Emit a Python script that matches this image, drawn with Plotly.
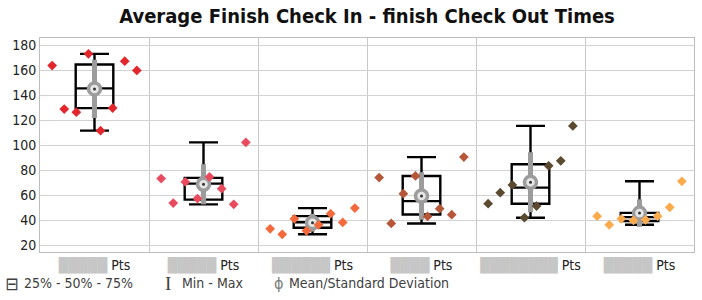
import numpy as np
import plotly.graph_objects as go

# ---------------- data ----------------
label_suffix = "Pts"
label_mask_len = [5, 5, 6, 4, 8, 5]   # redacted name placeholders

cat1 = [163.9, 129.0, 126.5, 173.3, 111.7, 129.8, 167.4, 160.0]
cat2 = [73.3, 53.6, 70.6, 57.2, 74.6, 65.2, 52.6, 102.3]
cat3 = [33.0, 28.6, 41.0, 31.4, 36.2, 45.1, 38.1, 49.6]
cat4 = [74.1, 37.3, 61.2, 75.4, 42.9, 49.1, 44.3, 90.5]
cat5 = [53.1, 62.0, 68.2, 41.9, 51.2, 83.5, 87.5, 115.5]
cat6 = [43.1, 36.2, 41.0, 39.7, 40.2, 43.1, 50.2, 71.1]
series = [cat1, cat2, cat3, cat4, cat5, cat6]

q1 = [129.8, 56.4, 33.8, 44.5, 53.1, 39.2]
median = [145.6, 69.2, 38.3, 55.2, 66.0, 42.4]
q3 = [164.7, 73.8, 43.2, 75.4, 84.8, 45.8]

point_colors = ["#e3262c", "#ea4a5e", "#f46a3c", "#b75739", "#5b4a2f", "#fbab4c"]

title_text = "Average Finish Check In - finish Check Out Times"
y_tick_vals = [20, 40, 60, 80, 100, 120, 140, 160, 180]
legend_labels = ["25% - 50% - 75%", "Min - Max", "Mean/Standard Deviation"]

# ---------------- figure ----------------
FONT = "DejaVu Sans Condensed, DejaVu Sans, sans-serif"
W, H = 702, 300
ML, MR, MT, MB = 40, 8, 38, 48
fig = go.Figure()
n_cat = len(series)
spacing = 0.111

for k, vals in enumerate(series):
    v = np.array(vals)
    fig.add_trace(go.Box(
        x=[k], q1=[q1[k]], median=[median[k]], q3=[q3[k]],
        lowerfence=[v.min()], upperfence=[v.max()],
        width=0.345, whiskerwidth=0.77,
        line=dict(color="black", width=2.4),
        fillcolor="rgba(0,0,0,0)", showlegend=False, hoverinfo="skip",
    ))

for k, vals in enumerate(series):
    v = np.array(vals)
    m = v.mean()
    sd = v.std(ddof=1)
    fig.add_trace(go.Scatter(
        x=[k], y=[m], mode="markers",
        marker=dict(symbol="circle", size=12, color="#e6e6e6",
                    line=dict(color="#9c9c9c", width=3.5)),
        error_y=dict(type="data", array=[sd], visible=True,
                     color="#9c9c9c", thickness=5, width=0),
        showlegend=False, hoverinfo="skip",
    ))
    fig.add_trace(go.Scatter(
        x=[k], y=[m], mode="markers",
        marker=dict(symbol="circle", size=3, color="#333333"),
        showlegend=False, hoverinfo="skip",
    ))

for k, vals in enumerate(series):
    n = len(vals)
    xs = [k + (i - (n - 1) / 2) * spacing for i in range(n)]
    fig.add_trace(go.Scatter(
        x=xs, y=vals, mode="markers",
        marker=dict(symbol="diamond", size=7.5, color=point_colors[k]),
        showlegend=False, hoverinfo="skip",
    ))

ticktext = [
    f"<span style='color:#c6c6c6'>{'█' * m}</span> {label_suffix}"
    for m in label_mask_len
]

fig.update_layout(
    width=W, height=H,
    margin=dict(l=ML, r=MR, t=MT, b=MB),
    paper_bgcolor="white", plot_bgcolor="white",
    font=dict(family=FONT, size=13, color="#222222"),
    title=dict(text=f"<b>{title_text}</b>", x=0.5, xanchor="center", xref="paper",
               y=1 - 16 / 300, yanchor="middle", yref="container",
               font=dict(family=FONT, size=20, color="#111111")),
    xaxis=dict(
        range=[-0.5, n_cat - 0.5], tickmode="array",
        tickvals=list(range(n_cat)), ticktext=ticktext,
        showgrid=False, zeroline=False, ticks="",
        showline=True, mirror=True, linecolor="#bdbdbd", linewidth=1,
        tickfont=dict(family=FONT, size=14, color="#222222"),
        minor=dict(tickmode="array", tickvals=[i + 0.5 for i in range(n_cat - 1)],
                   showgrid=True, gridcolor="#c8c8c8", gridwidth=1, ticks=""),
    ),
    yaxis=dict(
        range=[14.4, 186], tickmode="array", tickvals=y_tick_vals,
        showgrid=True, gridcolor="#d2d2d2", gridwidth=1.2, zeroline=False,
        showline=True, mirror=True, linecolor="#bdbdbd", linewidth=1,
        ticks="", tickfont=dict(family=FONT, size=14, color="#222222"),
    ),
)

# legend row drawn as annotations (icon + text), pixel positions -> paper
def px_to_paper_x(px):
    return (px - ML) / (W - ML - MR)

legend_y = -(283 - (H - MB)) / (H - MT - MB)
icons = [
    ("⊟", 18, "#404040", FONT),
    ("I", 19, "#404040", "Liberation Serif"),
    ("ϕ", 16, "#808080", FONT),
]
icon_px = [3, 163, 272]
text_px = [22, 180, 287]
for (icon, isz, icol, ifam), ipx, tpx, txt in zip(icons, icon_px, text_px, legend_labels):
    fig.add_annotation(
        text=icon, xref="paper", yref="paper",
        x=px_to_paper_x(ipx), y=legend_y, xanchor="left", yanchor="middle",
        showarrow=False, font=dict(family=ifam, size=isz, color=icol),
    )
    fig.add_annotation(
        text=txt, xref="paper", yref="paper",
        x=px_to_paper_x(tpx), y=legend_y, xanchor="left", yanchor="middle",
        showarrow=False, font=dict(family=FONT, size=14, color="#404040"),
    )

fig.write_html("out.html")
